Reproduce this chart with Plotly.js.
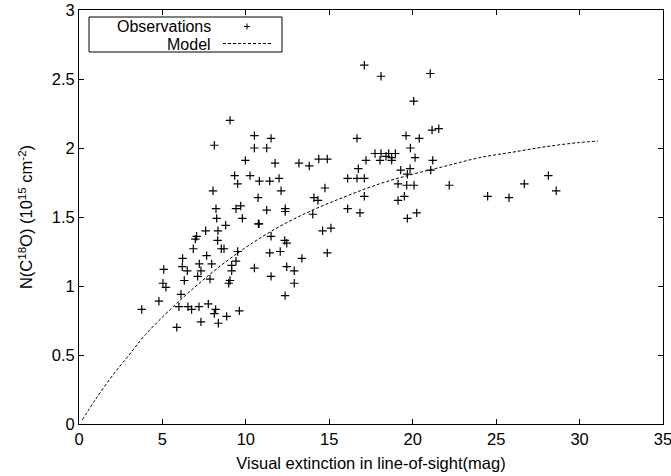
<!DOCTYPE html>
<html>
<head>
<meta charset="utf-8">
<script src="https://cdn.plot.ly/plotly-3.0.1.min.js"></script>
<style>html,body{margin:0;padding:0;background:#fff;}#chart{width:671px;height:476px;}</style>
</head>
<body>
<div id="chart"></div>
<script>
// Observations (visual extinction, N(C18O))
const obsX = [8.25,7.59,7.05,6.97,8.33,8.31,6.85,7.65,6.21,7.21,7.95,6.19,6.49,7.31,5.08,7.11,7.85,6.31,5.03,5.21,
  6.11,4.79,3.76,5.99,6.53,6.75,7.19,7.75,8.19,8.11,7.31,8.35,5.86,8.11,8.03,8.21,9.05,10.51,11.51,10.51,
  11.25,9.97,11.75,13.18,13.80,14.37,14.88,9.33,10.25,9.51,10.81,11.43,11.99,12.11,10.73,14.74,14.08,14.32,9.41,9.69,
  11.25,12.36,12.36,14.01,9.79,8.79,10.75,10.79,8.53,8.69,9.51,11.51,12.33,12.45,14.60,11.43,12.06,14.88,9.41,9.15,
  9.15,10.51,12.45,12.90,13.36,11.51,9.05,8.97,12.90,12.35,9.61,8.85,17.10,18.10,21.05,20.06,16.66,19.60,20.39,21.16,
  21.56,19.86,17.74,18.10,18.40,18.56,18.96,18.74,20.14,18.74,16.74,17.20,18.04,21.20,19.28,19.84,19.68,21.08,16.10,16.66,
  17.10,19.12,19.64,20.08,22.19,17.10,19.50,19.12,16.10,16.84,20.24,19.68,15.10,24.49,25.77,26.69,28.13,28.60];
const obsY = [1.49,1.40,1.36,1.34,1.40,1.33,1.27,1.22,1.20,1.16,1.16,1.14,1.11,1.11,1.12,1.07,1.05,1.04,1.02,0.99,
  0.94,0.89,0.83,0.85,0.85,0.83,0.85,0.87,0.83,0.80,0.74,0.73,0.70,2.02,1.69,1.56,2.20,2.09,2.07,2.00,
  2.00,1.91,1.89,1.89,1.87,1.92,1.92,1.80,1.80,1.74,1.76,1.76,1.78,1.69,1.64,1.71,1.64,1.62,1.56,1.58,
  1.55,1.56,1.54,1.52,1.49,1.44,1.45,1.45,1.27,1.27,1.25,1.36,1.33,1.31,1.40,1.24,1.25,1.24,1.18,1.15,
  1.11,1.13,1.14,1.11,1.20,1.07,1.04,1.02,1.02,0.93,0.82,0.78,2.60,2.52,2.54,2.34,2.07,2.09,2.07,2.13,
  2.14,2.00,1.96,1.96,1.94,1.96,1.96,1.93,1.93,1.91,1.85,1.91,1.91,1.91,1.84,1.85,1.81,1.84,1.78,1.78,
  1.78,1.74,1.73,1.73,1.73,1.65,1.65,1.62,1.56,1.53,1.53,1.49,1.42,1.65,1.64,1.74,1.80,1.69];

// Model curve
const modelX = [0.2,1,2,3,4,6,8,10,12,14,16,18,20,22,24,26,28,30,31.1];
const modelY = [0.03,0.18,0.35,0.50,0.65,0.89,1.10,1.28,1.43,1.55,1.65,1.74,1.81,1.87,1.93,1.97,2.01,2.04,2.05];

const xTicks = [0,5,10,15,20,25,30,35];
const yTicks = [0,0.5,1,1.5,2,2.5,3];
const legendLabels = ['Observations','Model'];

const font = {family:'"Liberation Sans", Arial, Helvetica, sans-serif', size:16.5, color:'#000'};
const legFont = {family:font.family, size:16, color:'#000'};

const traces = [
  {x:obsX, y:obsY, mode:'markers', type:'scatter', name:legendLabels[0],
   marker:{symbol:'cross-thin', size:6, color:'#000', line:{color:'#000', width:1.2}}, showlegend:false},
  {x:modelX, y:modelY, mode:'lines', type:'scatter', name:legendLabels[1],
   line:{color:'#000', width:1, dash:'3px,2px', shape:'spline'}, showlegend:false}
];

// legend geometry in paper units
const W = 584, H = 414;
const px = v => v / W, py = v => v / H;
const boxX0 = px(10), boxX1 = px(203), boxY0 = 1 - py(42), boxY1 = 1 - py(7);
const row1 = 1 - py(16.5), row2 = 1 - py(33.5);
const txtX = px(134), symX = px(168);

const layout = {
  width:671, height:476,
  margin:{l:79, r:8, t:10, b:52, pad:0},
  paper_bgcolor:'#fff', plot_bgcolor:'#fff',
  font:font,
  showlegend:false,
  xaxis:{range:[0,35], tickvals:xTicks, ticktext:xTicks.map(String), ticks:'inside', ticklen:5, tickcolor:'#000',
    showline:true, linecolor:'#000', linewidth:1, mirror:'ticks', showgrid:false, zeroline:false,
    ticklabeloverflow:'allow', automargin:false,
    title:{text:'Visual extinction in line-of-sight(mag)', font:font, standoff:10}, tickfont:font},
  yaxis:{range:[0,3], tickvals:yTicks, ticktext:yTicks.map(String), ticks:'inside', ticklen:5, tickcolor:'#000',
    showline:true, linecolor:'#000', linewidth:1, mirror:'ticks', showgrid:false, zeroline:false,
    ticklabeloverflow:'allow', automargin:false,
    title:{text:'N(C<sup>18</sup>O) (10<sup>15</sup> cm<sup>-2</sup>)', font:font, standoff:14}, tickfont:font},
  shapes:[
    {type:'rect', xref:'paper', yref:'paper', x0:boxX0, x1:boxX1, y0:boxY0, y1:boxY1, line:{color:'#000', width:1}, fillcolor:'#fff', layer:'above'},
    {type:'line', xref:'paper', yref:'paper', x0:symX-px(3), x1:symX+px(3), y0:row1, y1:row1, line:{color:'#000', width:1}},
    {type:'line', xref:'paper', yref:'paper', x0:symX, x1:symX, y0:row1-py(3), y1:row1+py(3), line:{color:'#000', width:1}},
    {type:'line', xref:'paper', yref:'paper', x0:px(144), x1:px(193), y0:row2, y1:row2, line:{color:'#000', width:1, dash:'3px,2px'}}
  ],
  annotations:[
    {xref:'paper', yref:'paper', x:txtX, y:row1, text:legendLabels[0], showarrow:false, xanchor:'right', yanchor:'middle', font:legFont, height:16},
    {xref:'paper', yref:'paper', x:txtX, y:row2, text:legendLabels[1], showarrow:false, xanchor:'right', yanchor:'middle', font:legFont, height:16}
  ]
};

Plotly.newPlot('chart', traces, layout, {staticPlot:true, displayModeBar:false});
</script>
</body>
</html>
